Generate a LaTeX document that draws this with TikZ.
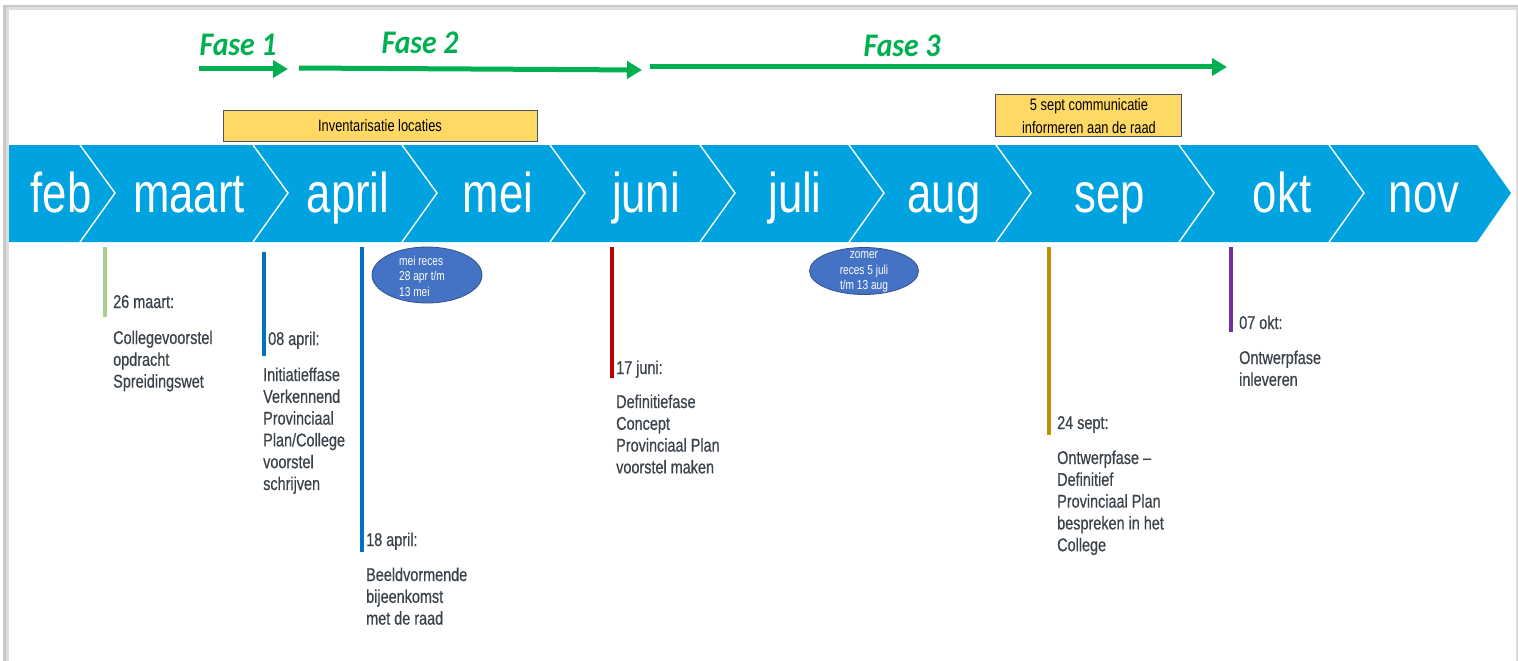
\documentclass[tikz,border=0pt]{standalone}
\usepackage{fontspec}
\setmainfont{Liberation Sans}
\newfontfamily\narrow[FakeStretch=0.78,Ligatures=TeX]{Liberation Sans}
\newfontfamily\narrowheavy[FakeStretch=0.78,FakeBold=0.5,Ligatures=TeX]{Liberation Sans}
\newfontfamily\fasefont[FakeStretch=0.9]{Carlito}
\usetikzlibrary{arrows.meta,shapes.geometric}
\definecolor{bandblue}{RGB}{0,163,224}
\definecolor{fasegreen}{RGB}{0,176,80}
\definecolor{boxyellow}{RGB}{255,217,102}
\definecolor{boxborder}{RGB}{68,84,106}
\definecolor{ellfill}{RGB}{68,114,196}
\definecolor{ellborder}{RGB}{47,82,143}
\definecolor{txtgray}{RGB}{58,66,74}
\definecolor{lgreen}{RGB}{169,209,142}
\definecolor{evblue}{RGB}{0,112,192}
\definecolor{evred}{RGB}{192,0,0}
\definecolor{evgold}{RGB}{191,144,0}
\definecolor{evpurple}{RGB}{112,48,160}
\definecolor{shadowgray}{RGB}{200,200,200}
\definecolor{shadowlight}{RGB}{222,222,222}
\begin{document}
\begin{tikzpicture}[x=1pt,y=-1pt,
  month/.style={inner sep=0pt,anchor=base,text=white,font=\narrow\fontsize{56}{60}\selectfont},
  sepline/.style={draw=white,line width=1.4pt},
  fasearrow/.style={draw=fasegreen,line width=5pt,-{Triangle[length=15pt,width=17pt]}},
  faselabel/.style={inner sep=0pt,anchor=base,text=fasegreen,font=\fasefont\bfseries\itshape\fontsize{33}{36}\selectfont},
  notebox/.style={draw=boxborder,line width=0.8pt,fill=boxyellow,inner sep=0pt},
  boxtext/.style={inner sep=0pt,anchor=base,align=center,text=black,font=\narrow\fontsize{16.5}{23}\selectfont},
  recess/.style={draw=ellborder,line width=0.8pt,fill=ellfill,ellipse,inner sep=0pt},
  recesstext/.style={inner sep=0pt,anchor=base west,align=left,text=white,font=\narrow\fontsize{13}{15.5}\selectfont},
  evline/.style={line width=4pt},
  evhead/.style={inner sep=0pt,anchor=base west,text=txtgray,font=\narrowheavy\fontsize{18.5}{21.8}\selectfont},
  evbody/.style={inner sep=0pt,anchor=base west,align=left,text=txtgray,font=\narrowheavy\fontsize{18.5}{21.8}\selectfont}
]
\useasboundingbox (0,0) rectangle (1518,661);
% frame with shadow
\fill[shadowgray] (3,5) rectangle (1518,661);
\fill[shadowlight] (6,7) rectangle (1518,661);
\fill[white] (9,10) rectangle (1516,661);

% blue band
\fill[bandblue] (9,145) -- (1477,145) -- (1511,193) -- (1477,242) -- (9,242) -- cycle;
\foreach \sx in {80,253,402,550,700,849,996,1179,1329}{
  \draw[sepline] (\sx,145) -- (\sx+35,193) -- (\sx,242);
}
\node[month] (feb) at (61,212) {feb};
\node[month] (maart) at (189,212) {maart};
\node[month] (april) at (348,212) {april};
\node[month] (mei) at (498,212) {mei};
\node[month] (juni) at (646,212) {juni};
\node[month] (juli) at (795,212) {juli};
\node[month] (aug) at (944,212) {aug};
\node[month] (sep) at (1110,212) {sep};
\node[month] (okt) at (1282,212) {okt};
\node[month] (nov) at (1424,212) {nov};

% phases
\coordinate (f1s) at (199,69); \coordinate (f1e) at (288,69);
\coordinate (f2s) at (299,68); \coordinate (f2e) at (642,70);
\coordinate (f3s) at (650,67); \coordinate (f3e) at (1227,67);
\draw[fasearrow] (f1s) -- (f1e);
\draw[fasearrow] (f2s) -- (f2e);
\draw[fasearrow] (f3s) -- (f3e);
\node[faselabel] (fase1) at (238,56) {Fase 1};
\node[faselabel] (fase2) at (420,54) {Fase 2};
\node[faselabel] (fase3) at (902,57) {Fase 3};

% note boxes
\node[notebox,minimum width=314pt,minimum height=31pt] (inv) at (380,125.5) {};
\node[boxtext] (invtext) at (380,131) {Inventarisatie locaties};
\node[notebox,minimum width=186pt,minimum height=42pt] (comm) at (1088.5,115.5) {};
\node[boxtext] (commtext) at (1089,133) {5 sept communicatie\\informeren aan de raad};

% recess ellipses
\node[recess,minimum width=110pt,minimum height=56pt] (meireces) at (427,275) {};
\node[recesstext] (meirecestext) at (399,296) {mei reces\\28 apr t/m\\13 mei};
\node[recess,minimum width=109pt,minimum height=47pt] (zomer) at (864,271) {};
\node[recesstext,anchor=base,align=center] (zomertext) at (864,289.5) {zomer\\reces 5 juli\\t/m 13 aug};

% events
\coordinate (e1a) at (105,247); \coordinate (e1b) at (105,317);
\draw[evline,lgreen] (e1a) -- (e1b);
\node[evhead] (e1h) at (113,308) {26 maart:};
\node[evbody] (e1t) at (113,387.6) {Collegevoorstel\\opdracht\\Spreidingswet};

\coordinate (e2a) at (264,252); \coordinate (e2b) at (264,356);
\draw[evline,evblue] (e2a) -- (e2b);
\node[evhead] (e2h) at (268,345) {08 april:};
\node[evbody] (e2t) at (263,490) {Initiatieffase\\Verkennend\\Provinciaal\\Plan/College\\voorstel\\schrijven};

\coordinate (e3a) at (362,247); \coordinate (e3b) at (362,552);
\draw[evline,evblue] (e3a) -- (e3b);
\node[evhead] (e3h) at (366,546) {18 april:};
\node[evbody] (e3t) at (366,624.6) {Beeldvormende\\bijeenkomst\\met de raad};

\coordinate (e4a) at (612,247); \coordinate (e4b) at (612,378);
\draw[evline,evred] (e4a) -- (e4b);
\node[evhead] (e4h) at (616,374) {17 juni:};
\node[evbody] (e4t) at (616,473.4) {Definitiefase\\Concept\\Provinciaal Plan\\voorstel maken};

\coordinate (e5a) at (1049,247); \coordinate (e5b) at (1049,435);
\draw[evline,evgold] (e5a) -- (e5b);
\node[evhead] (e5h) at (1057,429) {24 sept:};
\node[evbody] (e5t) at (1057,551.2) {Ontwerpfase –\\Definitief\\Provinciaal Plan\\bespreken in het\\College};

\coordinate (e6a) at (1231,247); \coordinate (e6b) at (1231,332);
\draw[evline,evpurple] (e6a) -- (e6b);
\node[evhead] (e6h) at (1239,329) {07 okt:};
\node[evbody] (e6t) at (1239,385.8) {Ontwerpfase\\inleveren};
\end{tikzpicture}
\end{document}
